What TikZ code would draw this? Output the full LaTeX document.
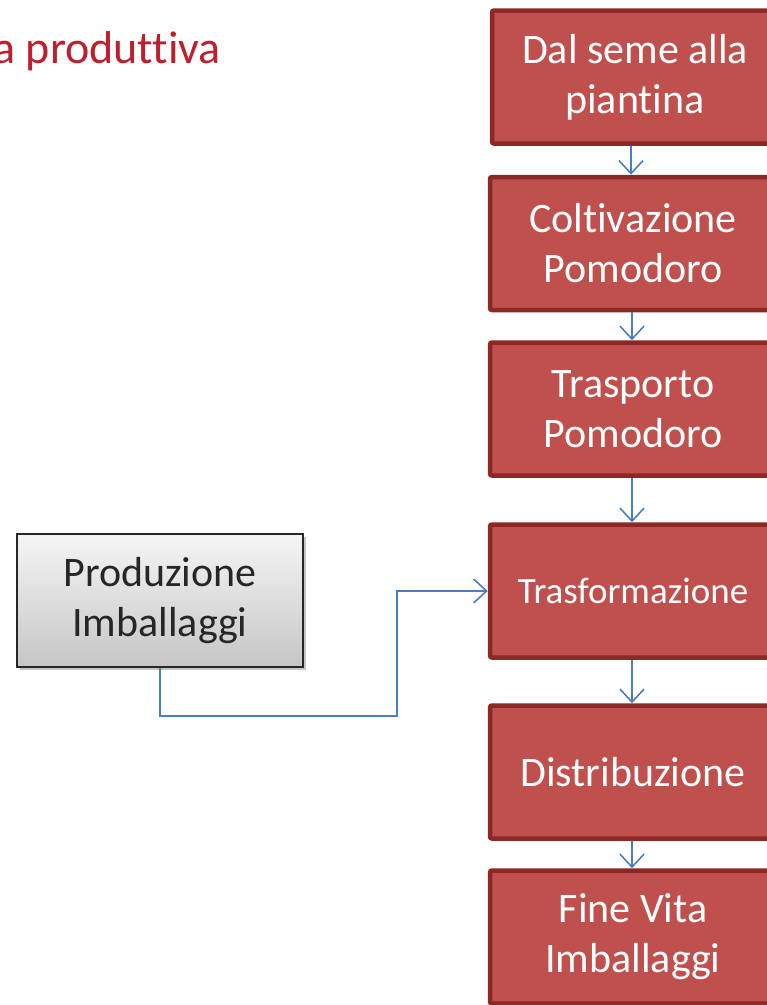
\documentclass[tikz,border=0pt]{standalone}
\usepackage{fontspec}
\setmainfont{Carlito}[Ligatures=NoCommon]
\usetikzlibrary{arrows.meta,shadows,positioning}

\definecolor{stagered}{RGB}{192,80,77}
\definecolor{stageedge}{RGB}{140,40,37}
\definecolor{flowblue}{RGB}{74,126,193}
\definecolor{titlered}{RGB}{190,30,45}

\tikzset{
  stage/.style={draw=stageedge, fill=stagered, line width=4.5pt, rounded corners=2pt,
    minimum width=286pt, minimum height=133pt, inner sep=0pt, align=center,
    text=white, font=\fontsize{42}{50}\selectfont,
    drop shadow={opacity=0.25, shadow xshift=1.5pt, shadow yshift=-1.5pt}},
  source/.style={draw=black!85, line width=2pt, top color=gray!8, bottom color=gray!45,
    minimum width=286pt, minimum height=133pt, inner sep=0pt, align=center,
    text=black!85, font=\fontsize{42}{50}\selectfont,
    drop shadow={opacity=0.45, shadow xshift=3pt, shadow yshift=-3pt}},
  flow/.style={draw=flowblue, line width=1.6pt, -{Straight Barb[length=13pt, width=24pt, line width=1.6pt]}}
}

\begin{document}
\begin{tikzpicture}[x=1pt, y=-1pt]
\clip (0,0) rectangle (767,1005);
\useasboundingbox (0,0) rectangle (767,1005);
% Title (cut at the left edge, as in the slide)
\node[anchor=base east, inner sep=0pt, text=titlered, font=\fontsize{46}{55}\selectfont] (title) at (221,63) {a produttiva};
% Production chain
\node[stage] (seme) at (635,77) {Dal seme alla\\piantina};
\node[stage] (coltiv) at (633,243.5) {Coltivazione\\Pomodoro};
\node[stage] (trasp) at (633,409) {Trasporto\\Pomodoro};
\node[stage, font=\fontsize{37}{44}\selectfont] (trasf) at (633,591) {Trasformazione};
\node[stage] (distr) at (633,772) {Distribuzione};
\node[stage] (fine) at (633,937) {Fine Vita\\Imballaggi};
% Packaging
\node[source] (imb) at (160,600.5) {Produzione\\Imballaggi};
% Arrows down the chain
\draw[flow] (seme.south -| 631,0) -- (coltiv.north -| 631,0);
\draw[flow] (coltiv.south -| 632,0) -- (trasp.north -| 632,0);
\draw[flow] (trasp.south -| 632,0) -- (trasf.north -| 632,0);
\draw[flow] (trasf.south -| 632,0) -- (distr.north -| 632,0);
\draw[flow] (distr.south -| 632,0) -- (fine.north -| 632,0);
% Packaging -> transformation
\coordinate (kink) at (397,716);
\draw[flow] (imb.south) |- (kink) |- (trasf.west);
\end{tikzpicture}
\end{document}
